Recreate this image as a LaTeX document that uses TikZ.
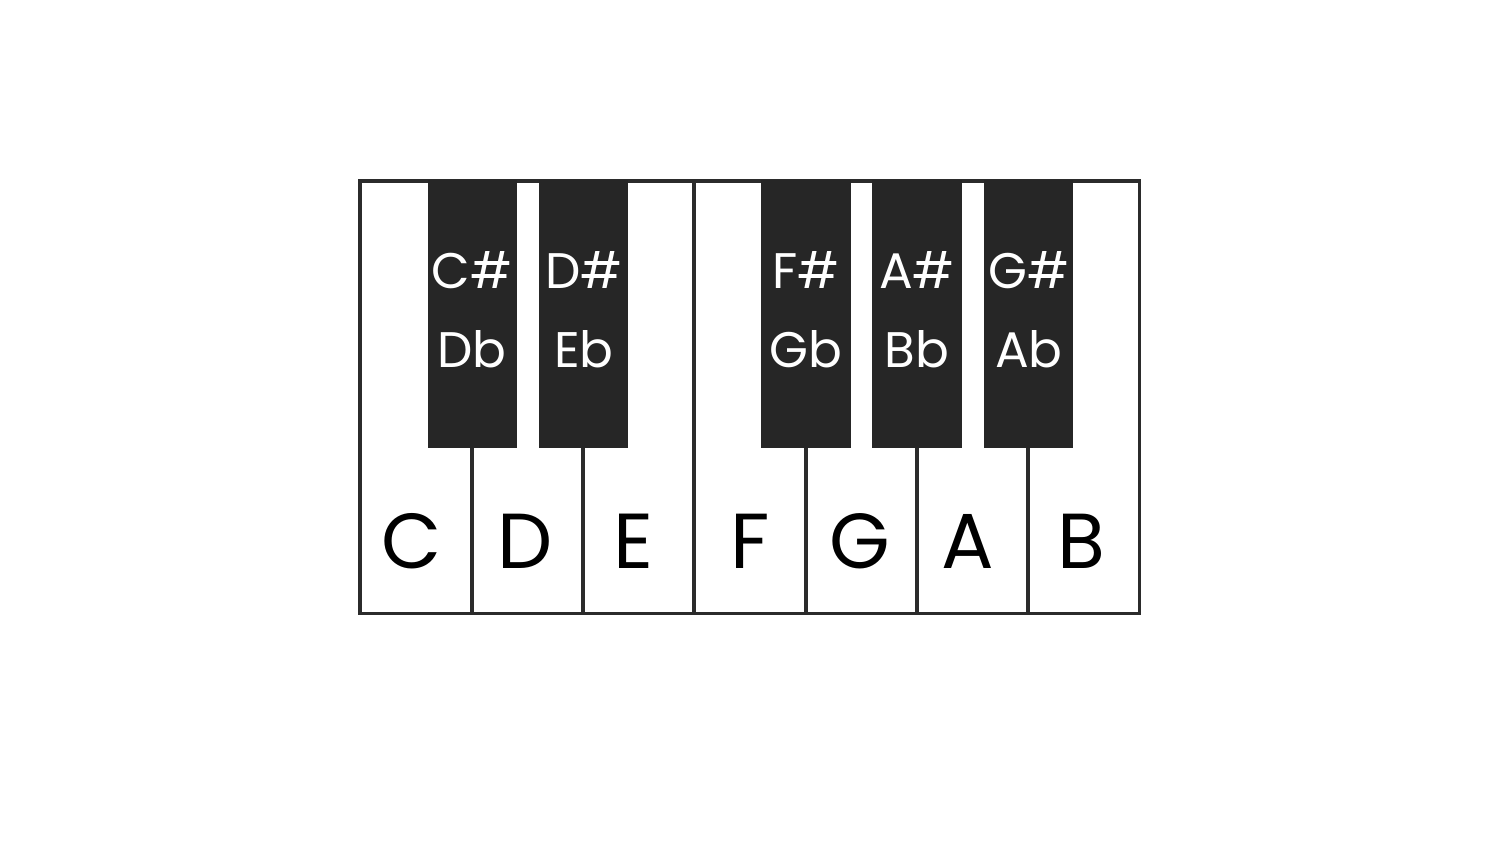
\documentclass[tikz,border=0pt]{standalone}
\usepackage{fontspec}
\setmainfont{Poppins}
\definecolor{keyblack}{HTML}{262626}
\definecolor{keyline}{HTML}{2B2B2B}
\begin{document}
\begin{tikzpicture}[x=1pt,y=-1pt,
  wlabel/.style={anchor=base,inner sep=0pt,font=\fontsize{78}{80}\selectfont,text=black},
  blabel/.style={anchor=base,inner sep=0pt,font=\fontsize{50}{52}\selectfont,text=white},
  blackkey/.style={fill=keyblack},
  divider/.style={draw=keyline,line width=3.3pt}]
\useasboundingbox (0,0) rectangle (1500,843);
\fill[white] (0,0) rectangle (1500,843);
% white keys outline
\draw[divider,fill=white] (360,181) rectangle (1139.5,613.5);
\draw[divider] (694,181) -- (694,613.5);
\foreach \x in {472,583,806,917,1028} \draw[divider] (\x,447) -- (\x,613.5);
% black keys
\foreach \a/\b in {427.5/516.5,539/628,761/851,872/962,984/1073}
  \fill[blackkey] (\a,179.5) rectangle (\b,447.5);
% white labels
\node[wlabel] (C) at (412,568) {C};
\node[wlabel] (D) at (525,568) {D};
\node[wlabel] (E) at (634,568) {E};
\node[wlabel] (F) at (750,568) {F};
\node[wlabel] (G) at (860,568) {G};
\node[wlabel] (A) at (968,568) {A};
\node[wlabel] (B) at (1081,568) {B};
% black labels
\node[blabel] (Cs) at (472,288) {C\#};
\node[blabel] (Db) at (472,367) {Db};
\node[blabel] (Ds) at (584,288) {D\#};
\node[blabel] (Eb) at (584,367) {Eb};
\node[blabel] (Fs) at (806,288) {F\#};
\node[blabel] (Gb) at (806,367) {Gb};
\node[blabel] (As) at (917,288) {A\#};
\node[blabel] (Bb) at (917,367) {Bb};
\node[blabel] (Gs) at (1029,288) {G\#};
\node[blabel] (Ab) at (1029,367) {Ab};
\end{tikzpicture}
\end{document}
